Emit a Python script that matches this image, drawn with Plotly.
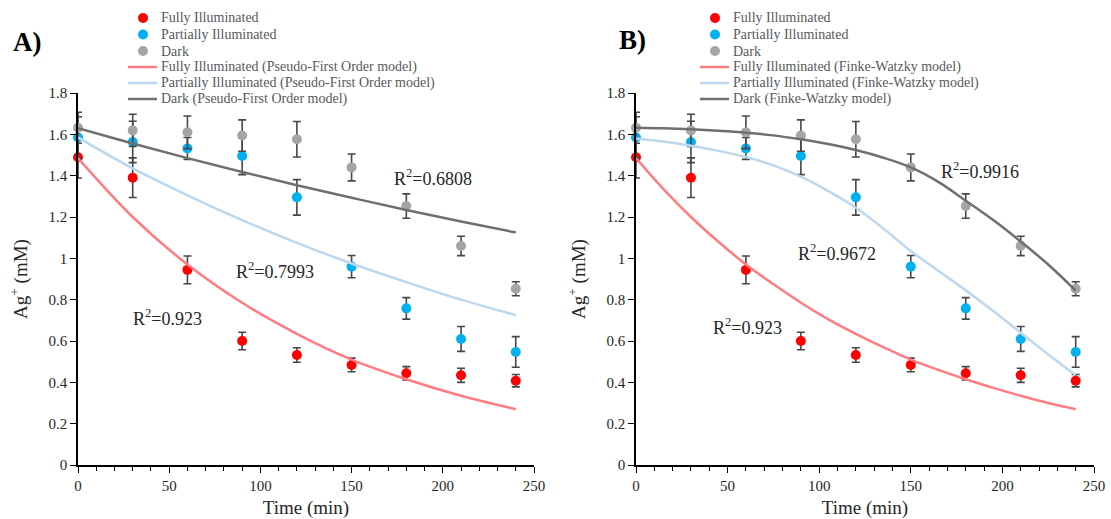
import plotly.graph_objects as go

# Sampling times (min)
time = [0, 30, 60, 90, 120, 150, 180, 210, 240]

# Measured Ag+ concentration (mM) and standard deviations
fully = [1.489, 1.39, 0.944, 0.600, 0.532, 0.484, 0.444, 0.434, 0.408]
fully_err = [0.10, 0.096, 0.067, 0.042, 0.035, 0.033, 0.032, 0.034, 0.030]
partial = [1.585, 1.563, 1.532, 1.495, 1.295, 0.960, 0.758, 0.610, 0.547]
partial_err = [0.10, 0.10, 0.053, 0.09, 0.086, 0.054, 0.052, 0.06, 0.074]
dark = [1.632, 1.619, 1.610, 1.594, 1.576, 1.440, 1.253, 1.060, 0.853]
dark_err = [0.075, 0.078, 0.079, 0.076, 0.086, 0.065, 0.059, 0.047, 0.034]

# Pseudo-first order model curves
pfo_time = [0, 30, 60, 90, 120, 150, 180, 210, 240]
pfo_fully = [1.485, 1.20, 0.97, 0.785, 0.635, 0.51, 0.415, 0.335, 0.27]
pfo_partial = [1.585, 1.435, 1.305, 1.185, 1.075, 0.975, 0.885, 0.80, 0.725]
pfo_dark = [1.63, 1.556, 1.485, 1.418, 1.354, 1.293, 1.234, 1.178, 1.125]

# Finke-Watzky model curves
fw_time = [0, 15, 30, 45, 60, 75, 90, 105, 120, 135, 150, 165, 180, 195, 210, 225, 240]
fw_fully = [1.485, 1.335, 1.20, 1.08, 0.97, 0.875, 0.785, 0.705, 0.635,
            0.57, 0.51, 0.46, 0.415, 0.373, 0.335, 0.30, 0.27]
fw_partial = [1.58, 1.565, 1.545, 1.52, 1.49, 1.45, 1.395, 1.325, 1.245,
              1.145, 1.035, 0.94, 0.845, 0.745, 0.64, 0.535, 0.435]
fw_dark = [1.632, 1.629, 1.624, 1.617, 1.608, 1.595, 1.576, 1.553, 1.524,
           1.487, 1.44, 1.37, 1.279, 1.185, 1.081, 0.97, 0.844]

# R² labels: (time, concentration, text)
r2_a = [(194.5, 1.39, "R<sup>2</sup>=0.6808"), (108, 0.943, "R<sup>2</sup>=0.7993"),
        (49.3, 0.716, "R<sup>2</sup>=0.923")]
r2_b = [(188, 1.427, "R<sup>2</sup>=0.9916"), (109.6, 1.026, "R<sup>2</sup>=0.9672"),
        (60.9, 0.668, "R<sup>2</sup>=0.923")]

series_names = ["Fully Illuminated", "Partially Illuminated", "Dark"]

RED, BLUE, GRAY = "#FF0000", "#00B0F0", "#A5A5A5"
L_RED, L_BLUE, L_DARK = "#FF7C80", "#BDD7EE", "#6F6F6F"
ERR = "#474747"
SERIF = "Liberation Serif, Times New Roman, serif"
TXT = "#262626"
LEG_TXT = "#595959"

W, H = 1111, 519

fig = go.Figure()
shapes = []
annotations = []


def add_panel(xa, ya, model_name, m_time, m_fully, m_partial, m_dark, leg_x):
    marker_cols = [RED, BLUE, GRAY]
    line_cols = [L_RED, L_BLUE, L_DARK]
    for name, ys, es, col in zip(series_names, [fully, partial, dark],
                                 [fully_err, partial_err, dark_err], marker_cols):
        fig.add_trace(go.Scatter(
            x=time, y=ys, mode="markers", name=name, xaxis=xa, yaxis=ya, showlegend=False,
            marker=dict(color=col, size=10), cliponaxis=False,
            error_y=dict(type="data", array=es, color=ERR, thickness=1.6, width=4),
        ))
    for name, ys, col in zip(series_names, [m_fully, m_partial, m_dark], line_cols):
        fig.add_trace(go.Scatter(
            x=m_time, y=ys, mode="lines", name=f"{name} ({model_name})",
            xaxis=xa, yaxis=ya, showlegend=False, cliponaxis=False,
            line=dict(color=col, width=2.5, shape="spline"),
        ))

    # legend block above the panel
    rows_y = [18, 34.5, 51, 67, 83, 99]
    labels = series_names + [f"{n} ({model_name})" for n in series_names]
    for i, (label, py) in enumerate(zip(labels, rows_y)):
        yp = 1 - py / H
        if i < 3:
            shapes.append(dict(type="circle", xref="paper", yref="paper",
                               xsizemode="pixel", ysizemode="pixel",
                               xanchor=(leg_x + 15) / W, yanchor=yp,
                               x0=-5, x1=5, y0=-5, y1=5,
                               fillcolor=marker_cols[i], line=dict(width=0)))
        else:
            shapes.append(dict(type="line", xref="paper", yref="paper",
                               x0=leg_x / W, x1=(leg_x + 29) / W, y0=yp, y1=yp,
                               line=dict(color=line_cols[i - 3], width=2.5)))
        annotations.append(dict(x=(leg_x + 31) / W, y=yp, xref="paper", yref="paper",
                                text=label, showarrow=False, xanchor="left", yanchor="middle",
                                font=dict(family=SERIF, size=14, color=LEG_TXT)))


add_panel("x", "y", "Pseudo-First Order model", pfo_time, pfo_fully, pfo_partial, pfo_dark, 128)
add_panel("x2", "y2", "Finke-Watzky model", fw_time, fw_fully, fw_partial, fw_dark, 700)

y_bottom = 1 - 465 / H
y_top = 1 - 93 / H

xaxis_common = dict(
    range=[0, 250], dtick=50, showline=True, linecolor="black", linewidth=1.5,
    ticks="outside", ticklen=6, tickcolor="black", tickwidth=1.2,
    minor=dict(dtick=10, ticks="outside", ticklen=4, tickcolor="black", tickwidth=1.2),
    showgrid=False, zeroline=False, automargin=False,
    tickfont=dict(family=SERIF, size=15, color=TXT),
    title=dict(text="Time (min)", font=dict(family=SERIF, size=19, color=TXT), standoff=8),
)
yaxis_common = dict(
    range=[0, 1.8], dtick=0.2, showline=True, linecolor="black", linewidth=1.5,
    ticks="outside", ticklen=6, tickcolor="black", tickwidth=1.2,
    showgrid=False, zeroline=False, automargin=False,
    tickfont=dict(family=SERIF, size=15, color=TXT),
    title=dict(text="Ag<sup>+</sup> (mM)", font=dict(family=SERIF, size=19, color=TXT), standoff=16),
)

for xref, yref, labels in [("x", "y", r2_a), ("x2", "y2", r2_b)]:
    for x, y, t in labels:
        annotations.append(dict(x=x, y=y, xref=xref, yref=yref, text=t, showarrow=False,
                                font=dict(family=SERIF, size=18, color=TXT)))
annotations.append(dict(x=27 / W, y=1 - 42 / H, xref="paper", yref="paper", text="<b>A)</b>",
                        xanchor="center", yanchor="middle",
                        showarrow=False, font=dict(family=SERIF, size=27, color="black")))
annotations.append(dict(x=632 / W, y=1 - 40 / H, xref="paper", yref="paper", text="<b>B)</b>",
                        xanchor="center", yanchor="middle",
                        showarrow=False, font=dict(family=SERIF, size=27, color="black")))

fig.update_layout(
    width=W, height=H, margin=dict(l=0, r=0, t=0, b=0, autoexpand=False),
    paper_bgcolor="white", plot_bgcolor="white", showlegend=False,
    xaxis=dict(domain=[78 / W, 534 / W], anchor="y", **xaxis_common),
    yaxis=dict(domain=[y_bottom, y_top], anchor="x", **yaxis_common),
    xaxis2=dict(domain=[636 / W, 1094 / W], anchor="y2", **xaxis_common),
    yaxis2=dict(domain=[y_bottom, y_top], anchor="x2", **yaxis_common),
    shapes=shapes,
    annotations=annotations,
)

fig.write_html("out.html")
